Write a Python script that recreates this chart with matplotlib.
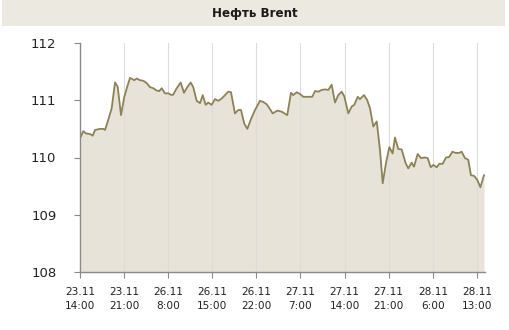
import matplotlib
matplotlib.use("Agg")
import matplotlib.pyplot as plt
from matplotlib.patches import Rectangle

title = "Нефть Brent"
tick_hours = [0, 7, 14, 21, 28, 35, 42, 49, 56, 63]
tick_labels = ["23.11\n14:00", "23.11\n21:00", "26.11\n8:00", "26.11\n15:00",
               "26.11\n22:00", "27.11\n7:00", "27.11\n14:00", "27.11\n21:00",
               "28.11\n6:00", "28.11\n13:00"]

# hours since 23.11 14:00 (trading time axis) and price
hours = [0.11, 0.52, 0.95, 1.59, 2.02, 2.38, 3.17, 3.70, 3.97, 4.49,
         5.03, 5.56, 5.98, 6.51, 7.03, 7.51, 7.94, 8.30, 8.62, 9.00,
         9.52, 10.05, 10.59, 11.11, 11.63, 12.17, 12.59, 12.97, 13.49, 14.02,
         14.56, 14.81, 15.35, 15.98, 16.51, 17.03, 17.57, 17.98, 18.52, 19.05,
         19.48, 19.95, 20.37, 20.90, 21.43, 21.95, 22.49, 23.02, 23.54, 23.97,
         24.60, 25.13, 25.56, 26.08, 26.56, 27.14, 27.78, 28.57, 29.10, 29.63,
         29.89, 30.59, 31.32, 32.02, 32.90, 33.49, 33.86, 34.40, 34.92, 35.44,
         36.24, 36.87, 37.30, 37.83, 38.37, 38.89, 39.41, 39.95, 40.48, 41.00,
         41.54, 41.95, 42.59, 43.13, 43.54, 44.08, 44.44, 45.08, 45.60, 46.03,
         46.56, 47.10, 47.62, 48.05, 48.57, 49.10, 49.63, 50.00, 50.52, 51.06,
         51.70, 52.11, 52.65, 53.02, 53.60, 54.13, 54.76, 55.19, 55.67, 56.08,
         56.62, 57.03, 57.57, 58.10, 58.62, 59.10, 59.68, 60.16, 60.59, 61.11,
         61.63, 62.06, 62.54, 63.06, 63.56, 64.13]
price = [110.36, 110.46, 110.42, 110.41, 110.38, 110.48, 110.50, 110.50, 110.48, 110.66,
         110.86, 111.31, 111.24, 110.74, 111.06, 111.24, 111.39, 111.37, 111.35, 111.38,
         111.35, 111.34, 111.30, 111.23, 111.21, 111.17, 111.16, 111.21, 111.12, 111.12,
         111.09, 111.10, 111.21, 111.31, 111.13, 111.23, 111.31, 111.23, 110.99, 110.95,
         111.09, 110.92, 110.96, 110.92, 111.02, 110.99, 111.03, 111.09, 111.15, 111.14,
         110.77, 110.83, 110.83, 110.59, 110.50, 110.67, 110.83, 110.99, 110.97, 110.93,
         110.89, 110.77, 110.82, 110.80, 110.74, 111.13, 111.09, 111.14, 111.11, 111.06,
         111.06, 111.06, 111.16, 111.15, 111.18, 111.19, 111.18, 111.27, 110.96, 111.09,
         111.15, 111.07, 110.77, 110.89, 110.92, 111.06, 111.02, 111.09, 111.00, 110.86,
         110.54, 110.63, 110.13, 109.55, 109.90, 110.18, 110.07, 110.35, 110.15, 110.14,
         109.90, 109.81, 109.91, 109.84, 110.06, 109.99, 110.00, 109.99, 109.83, 109.87,
         109.83, 109.89, 109.89, 110.00, 110.01, 110.10, 110.08, 110.08, 110.10, 109.99,
         109.96, 109.69, 109.68, 109.61, 109.48, 109.69]
y_ticks = [108, 109, 110, 111, 112]

fig = plt.figure(figsize=(5.10, 3.30), dpi=100)
fig.patch.set_facecolor("white")
fig.patches.append(Rectangle((2/510, 1 - 26/330), 503/510, 26/330,
                             transform=fig.transFigure, facecolor="#ECE9E1",
                             edgecolor="none", zorder=0))
fig.text(0.5, 1 - 14/330, title, ha="center", va="center", fontsize=8.6,
         fontweight="bold", color="#1a1a1a")

ax = fig.add_axes([80/510, (330-272)/330, 405/510, (272-43)/330])
ax.set_facecolor("white")
ax.fill_between(hours, price, 108, color="#E8E3D8", zorder=1, linewidth=0)
ax.plot(hours, price, color="#8C8254", linewidth=1.3, zorder=3)
ax.set_xlim(0, 64.29)
ax.set_ylim(108, 112)
ax.set_xticks(tick_hours)
ax.set_xticklabels(tick_labels, fontsize=7.6, color="#222222", linespacing=1.45)
ax.set_yticks(y_ticks)
ax.set_yticklabels([str(v) for v in y_ticks], fontsize=9.5, color="#222222")
for h in tick_hours[1:]:
    ax.axvline(h, color="#DCDCDC", linewidth=0.8, zorder=2)
for s in ["top", "right"]:
    ax.spines[s].set_visible(False)
for s in ["left", "bottom"]:
    ax.spines[s].set_color("#8A8A8A")
    ax.spines[s].set_linewidth(1.0)
    ax.spines[s].set_zorder(4)
ax.tick_params(axis="y", length=4, color="#8A8A8A", pad=13)
ax.tick_params(axis="x", length=4, color="#8A8A8A", pad=7)

fig.savefig("out.png", dpi=100)
